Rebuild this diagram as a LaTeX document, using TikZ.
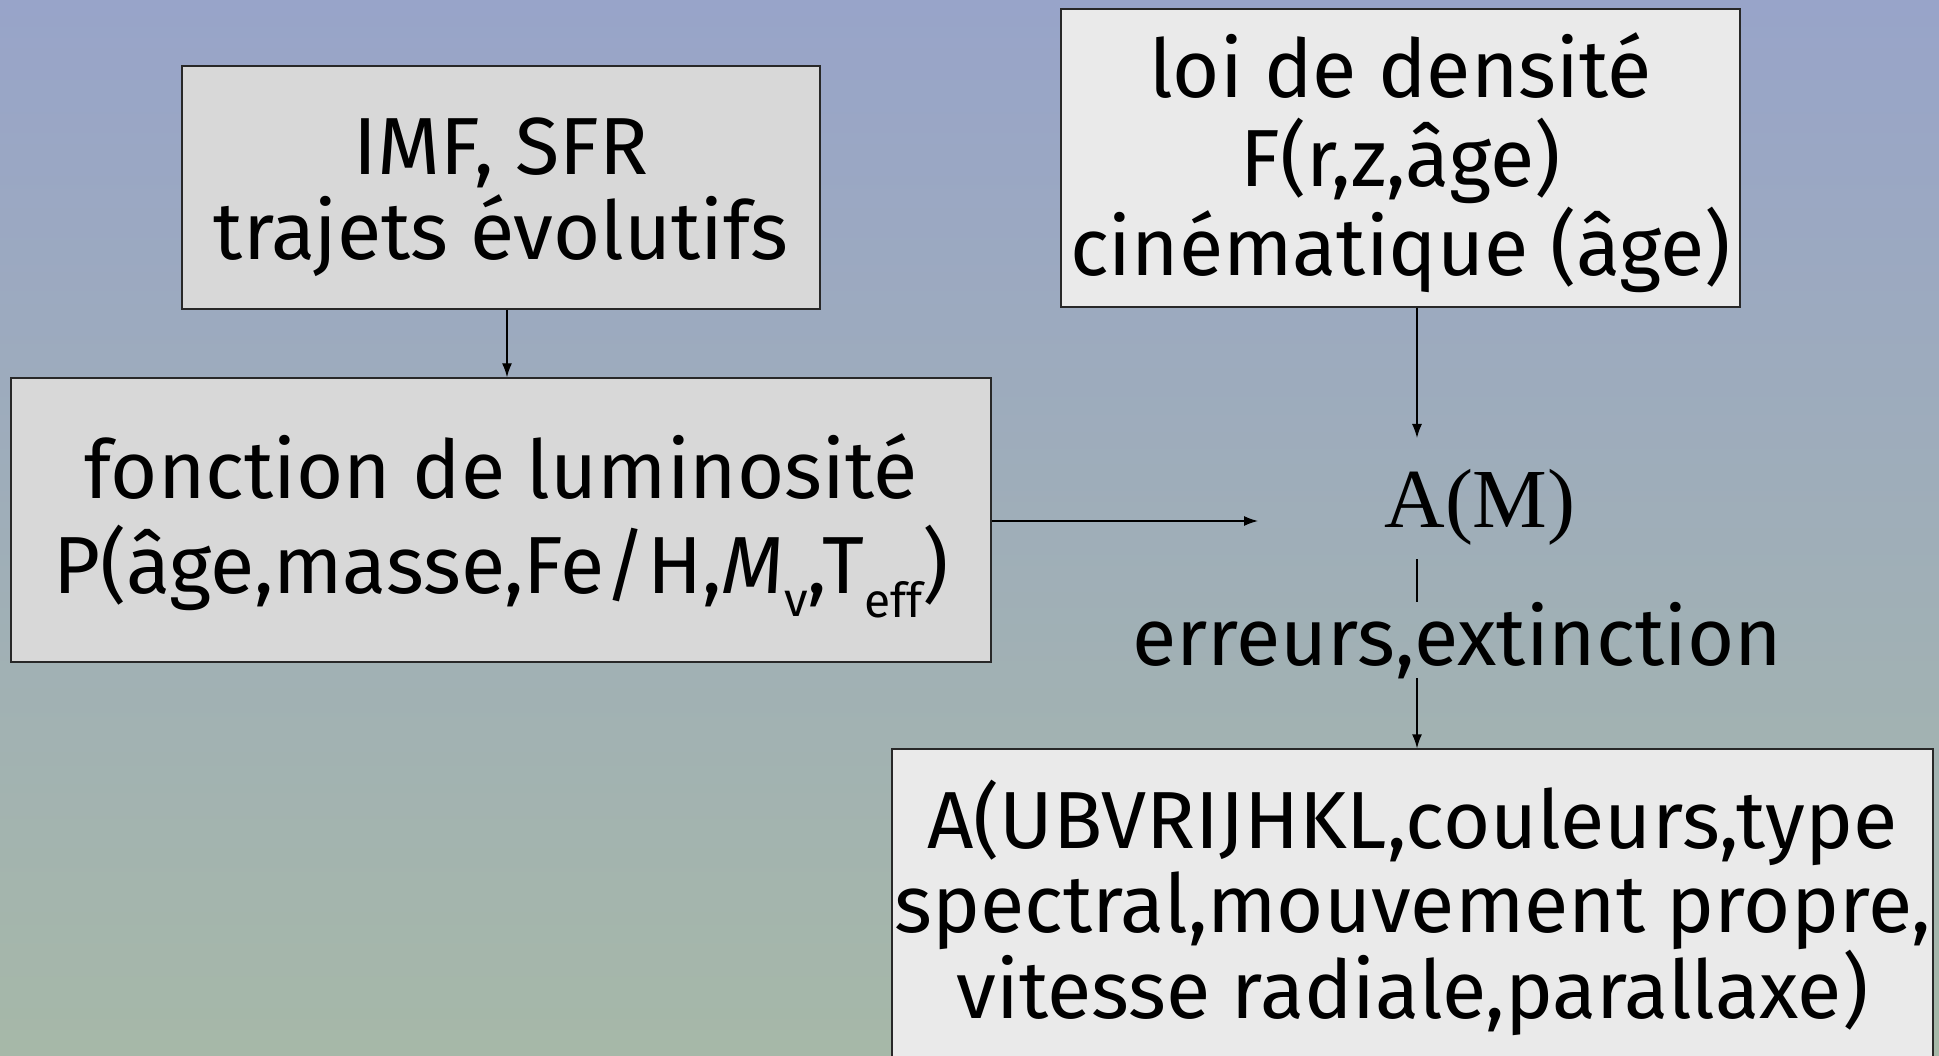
\documentclass[tikz,border=0pt]{standalone}
\usepackage{fontspec}
\setmainfont{Fira Sans}
\newfontfamily\amserif{Liberation Serif}
\usetikzlibrary{arrows.meta}
\definecolor{bgtop}{RGB}{152,164,201}
\definecolor{bgbot}{RGB}{166,184,168}
\definecolor{boxA}{RGB}{216,216,216}
\definecolor{boxB}{RGB}{234,234,234}
\definecolor{edge}{RGB}{40,40,40}
\begin{document}
\begin{tikzpicture}[x=1pt,y=-1pt,
  box/.style={draw=edge,line width=1.4pt,inner sep=0pt},
  txt/.style={inner sep=0pt,align=center,font=\fontsize{81}{85}\selectfont},
  arr/.style={line width=1.4pt,-{Latex[length=14pt,width=10pt]}},
  ln/.style={line width=1.4pt}]
\useasboundingbox (0,0) rectangle (1939,1056);
\shade[top color=bgtop,bottom color=bgbot] (0,0) rectangle (1939,1056);
\node[box,fill=boxA,minimum width=638pt,minimum height=243pt] (b1) at (501,187.5) {};
\node[txt] (t1) at ([yshift=-10pt]b1.center) {IMF, SFR\\trajets évolutifs};
\node[box,fill=boxB,minimum width=679pt,minimum height=298pt] (b2) at (1400.5,158) {};
\node[txt,font=\fontsize{81}{89}\selectfont] (t2) at ([yshift=-5pt]b2.center) {loi de densité\\F(r,z,âge)\\cinématique (âge)};
\node[box,fill=boxA,minimum width=980pt,minimum height=284pt] (b3) at (501,520) {};
\node[txt,font=\fontsize{81}{95}\selectfont] (t3) at ([yshift=-6pt]b3.center)
  {fonction de luminosité\\P(âge,masse,Fe/H,\textit{M}\raisebox{-0.28em}{\fontsize{48}{48}\selectfont v},T\raisebox{-0.3em}{\fontsize{48}{48}\selectfont eff})};
\node[box,fill=boxB,minimum width=1041pt,minimum height=318pt] (b4) at (1412.5,908) {};
\node[txt,font=\fontsize{81}{84}\selectfont] (t4) at (b4.center)
  {A(UBVRIJHKL,couleurs,type\\spectral,mouvement propre,\\vitesse radiale,parallaxe)};
\node[inner sep=0pt,font=\amserif\fontsize{84}{84}\selectfont] (am) at (1480,507) {A(M)};
\node[inner sep=0pt,font=\fontsize{81}{81}\selectfont] (err) at (1457,641) {erreurs,extinction};
\coordinate (c1) at (1258,521);
\coordinate (c2) at (1417,438);
\coordinate (c3) at (1417,559);
\coordinate (c4) at (1417,602);
\coordinate (c5) at (1417,678);
\draw[arr] ([xshift=6pt]b1.south) -- ([xshift=6pt]b3.north);
\draw[arr] (b3.east |- c1) -- (c1);
\draw[arr] (b2.south -| c2) -- (c2);
\draw[ln] (c3) -- (c4);
\draw[arr] (c5) -- (b4.north -| c5);
\end{tikzpicture}
\end{document}
